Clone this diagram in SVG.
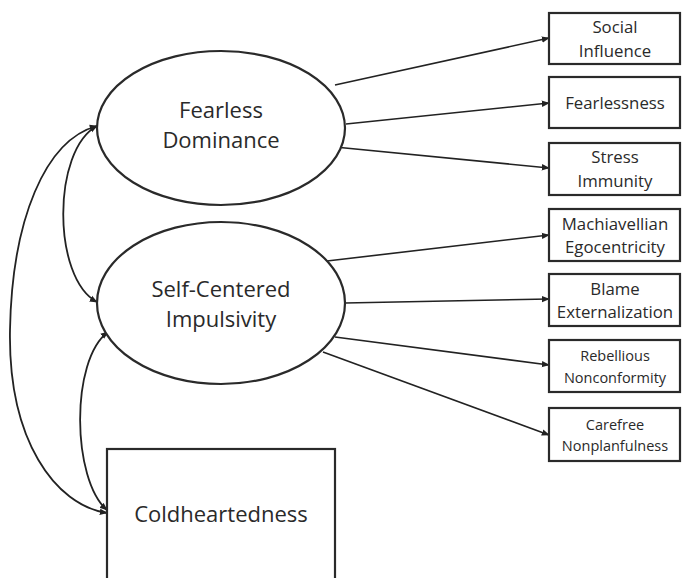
<svg xmlns="http://www.w3.org/2000/svg" width="684" height="578" viewBox="0 0 684 578">
<defs>
<marker id="ah" viewBox="0 0 10 10" refX="9" refY="5" markerWidth="8" markerHeight="8" markerUnits="userSpaceOnUse" orient="auto-start-reverse">
<path d="M0,1 L10,5 L0,9 Z" fill="#222"/>
</marker>
</defs>
<style>
.shape{fill:#fff;stroke:#2a2a2a;stroke-width:2.2}
.big{font-family:"Open Sans","Liberation Sans",sans-serif;font-size:22px;fill:#2a2a2a;text-anchor:middle}
.mid{font-family:"Open Sans","Liberation Sans",sans-serif;font-size:16.8px;fill:#2a2a2a;text-anchor:middle}
.sm{font-family:"Open Sans","Liberation Sans",sans-serif;font-size:14.5px;fill:#2a2a2a;text-anchor:middle}
.ln{fill:none;stroke:#222;stroke-width:1.6;marker-end:url(#ah)}
.dbl{fill:none;stroke:#222;stroke-width:1.8;marker-start:url(#ah);marker-end:url(#ah)}
</style>
<rect width="684" height="578" fill="#fff"/>
<g id="connectors">
<path class="ln" d="M335,85 L549,38"/>
<path class="ln" d="M346,124 L549,103"/>
<path class="ln" d="M335,147 L549,168"/>
<path class="ln" d="M327,261 L549,235"/>
<path class="ln" d="M345,303 L549,299"/>
<path class="ln" d="M335,337 L549,365"/>
<path class="ln" d="M323,352 L549,435"/>
<path class="dbl" d="M97,126 C52,150 52,278 97,302"/>
<path class="dbl" d="M97,126 C45,140 12,220 10,330 C8,440 55,505 107,513"/>
<path class="dbl" d="M108,332 C70,360 72,480 107,510"/>
</g>
<g id="fearless-dominance">
<ellipse class="shape" cx="221" cy="128" rx="124" ry="77"/>
<text class="big" x="221" y="118">Fearless</text>
<text class="big" x="221" y="148">Dominance</text>
</g>
<g id="self-centered-impulsivity">
<ellipse class="shape" cx="221" cy="303" rx="124" ry="81"/>
<text class="big" x="221" y="297">Self-Centered</text>
<text class="big" x="221" y="327">Impulsivity</text>
</g>
<g id="coldheartedness">
<rect class="shape" x="107" y="449" width="228" height="140"/>
<text class="big" x="221" y="522">Coldheartedness</text>
</g>
<g id="social-influence">
<rect class="shape" x="549" y="13" width="131" height="51"/>
<text class="mid" x="615" y="33">Social</text>
<text class="mid" x="615" y="57">Influence</text>
</g>
<g id="fearlessness">
<rect class="shape" x="549" y="77" width="131" height="51"/>
<text class="mid" x="615" y="109">Fearlessness</text>
</g>
<g id="stress-immunity">
<rect class="shape" x="549" y="143" width="131" height="52"/>
<text class="mid" x="615" y="163">Stress</text>
<text class="mid" x="615" y="187">Immunity</text>
</g>
<g id="machiavellian-egocentricity">
<rect class="shape" x="549" y="209" width="131" height="52"/>
<text class="mid" x="615" y="230">Machiavellian</text>
<text class="mid" x="615" y="253">Egocentricity</text>
</g>
<g id="blame-externalization">
<rect class="shape" x="549" y="274" width="131" height="52"/>
<text class="mid" x="615" y="295">Blame</text>
<text class="mid" x="615" y="318">Externalization</text>
</g>
<g id="rebellious-nonconformity">
<rect class="shape" x="549" y="340" width="131" height="52"/>
<text class="sm" x="615" y="361">Rebellious</text>
<text class="sm" x="615" y="383">Nonconformity</text>
</g>
<g id="carefree-nonplanfulness">
<rect class="shape" x="549" y="408" width="131" height="53"/>
<text class="sm" x="615" y="430">Carefree</text>
<text class="sm" x="615" y="451">Nonplanfulness</text>
</g>
</svg>
